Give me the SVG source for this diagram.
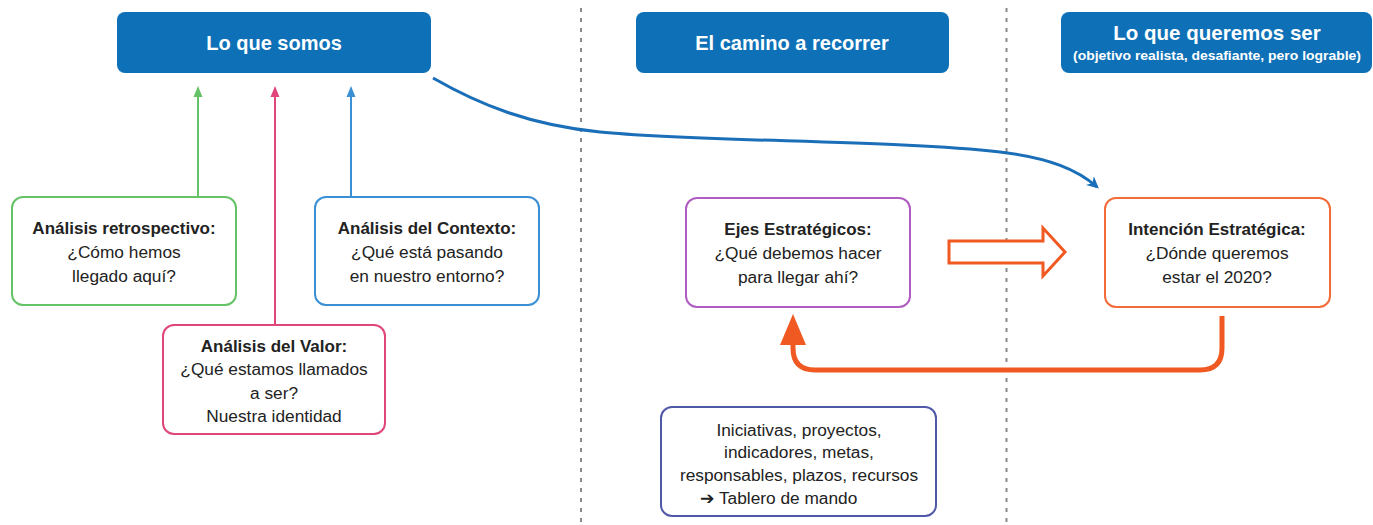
<svg xmlns="http://www.w3.org/2000/svg" width="1373" height="525" viewBox="0 0 1373 525">
<style>
text{font-family:"Liberation Sans",Arial,sans-serif;text-anchor:middle;fill:#222}
.hd{fill:#0e71b8}
.ht{fill:#fff;font-weight:bold;font-size:20px}
.b{font-weight:bold;font-size:17px}
.r{font-size:17.3px}
.box{fill:#fff;stroke-width:2}
.dash{stroke:#8a8a8a;stroke-width:2;stroke-dasharray:4 6}
</style>
<defs>
<marker id="mb" markerWidth="12" markerHeight="12" refX="8" refY="5" orient="auto" markerUnits="userSpaceOnUse" viewBox="0 0 10 10">
<path d="M0,0 L10,5 L0,10 L3,5 Z" fill="#1a6fb8"/>
</marker>
</defs>
<g id="dividers">
<line class="dash" x1="581" y1="8" x2="581" y2="525"/>
<line class="dash" x1="1006.5" y1="8" x2="1006.5" y2="525"/>
</g>
<g id="hdr-somos">
<rect class="hd" x="117" y="12" width="314" height="61" rx="8"/>
<text class="ht" x="274" y="50">Lo que somos</text>
</g>
<g id="hdr-camino">
<rect class="hd" x="636" y="12" width="313" height="61" rx="8"/>
<text class="ht" x="792" y="50">El camino a recorrer</text>
</g>
<g id="hdr-queremos">
<rect class="hd" x="1061" y="12" width="311" height="61" rx="8"/>
<text class="ht" x="1217" y="40" style="font-size:20.5px">Lo que queremos ser</text>
<text class="ht" x="1217" y="60" style="font-size:13px" textLength="288" lengthAdjust="spacingAndGlyphs">(objetivo realista, desafiante, pero lograble)</text>
</g>
<g id="connectors">
<line x1="198" y1="197" x2="198" y2="96" stroke="#66c266" stroke-width="2"/>
<polygon points="198,86 193.5,97 202.5,97" fill="#66c266"/>
<line x1="275" y1="325" x2="275" y2="96" stroke="#e0457b" stroke-width="2"/>
<polygon points="275,86 270.5,97 279.5,97" fill="#e0457b"/>
<line x1="351" y1="197" x2="351" y2="96" stroke="#3b8fd4" stroke-width="2"/>
<polygon points="351,86 346.5,97 355.5,97" fill="#3b8fd4"/>
<path d="M433,78 C480,105 530,125 600,132 C700,142 900,140 1000,152 C1050,158 1078,170 1097,187" fill="none" stroke="#1a6fb8" stroke-width="3" marker-end="url(#mb)"/>
<polygon points="949,241 1043,241 1043,228 1065,252 1043,276 1043,263 949,263" fill="#fff" stroke="#f05a22" stroke-width="3" stroke-linejoin="miter"/>
<path d="M1222,316 L1222,348 Q1222,370 1200,370 L815,370 Q793,370 793,348 L793,338" fill="none" stroke="#f05a22" stroke-width="5"/>
<polygon points="793,314 780,345 806,345" fill="#f05a22"/>
</g>
<g id="n-retro">
<rect class="box" x="12" y="197" width="224" height="108" rx="11" stroke="#66c266"/>
<text class="b" x="124" y="234">Análisis retrospectivo:</text>
<text class="r" x="124" y="258">¿Cómo hemos</text>
<text class="r" x="124" y="282">llegado aquí?</text>
</g>
<g id="n-contexto">
<rect class="box" x="315" y="197" width="224" height="108" rx="11" stroke="#3b8fd4"/>
<text class="b" x="427" y="234">Análisis del Contexto:</text>
<text class="r" x="427" y="258">¿Qué está pasando</text>
<text class="r" x="427" y="282">en nuestro entorno?</text>
</g>
<g id="n-valor">
<rect class="box" x="163" y="325" width="222" height="109" rx="11" stroke="#e0457b"/>
<text class="b" x="274" y="352">Análisis del Valor:</text>
<text class="r" x="274" y="375">¿Qué estamos llamados</text>
<text class="r" x="274" y="399">a ser?</text>
<text class="r" x="274" y="422">Nuestra identidad</text>
</g>
<g id="n-ejes">
<rect class="box" x="686" y="198" width="224" height="109" rx="11" stroke="#b05cc0"/>
<text class="b" x="798" y="235">Ejes Estratégicos:</text>
<text class="r" x="798" y="259">¿Qué debemos hacer</text>
<text class="r" x="798" y="283">para llegar ahí?</text>
</g>
<g id="n-intencion">
<rect class="box" x="1105" y="198" width="225" height="109" rx="11" stroke="#f26b3a"/>
<text class="b" x="1217" y="235">Intención Estratégica:</text>
<text class="r" x="1217" y="259">¿Dónde queremos</text>
<text class="r" x="1217" y="283">estar el 2020?</text>
</g>
<g id="n-iniciativas">
<rect class="box" x="661" y="407" width="275" height="109" rx="11" stroke="#5059a8"/>
<text class="r" x="799" y="436">Iniciativas, proyectos,</text>
<text class="r" x="799" y="458">indicadores, metas,</text>
<text class="r" x="799" y="481">responsables, plazos, recursos</text>
<text class="r" x="700" y="504" style="text-anchor:start"><tspan style="font-family:'DejaVu Sans',sans-serif;font-weight:bold">➔</tspan> Tablero de mando</text>
</g>
</svg>
